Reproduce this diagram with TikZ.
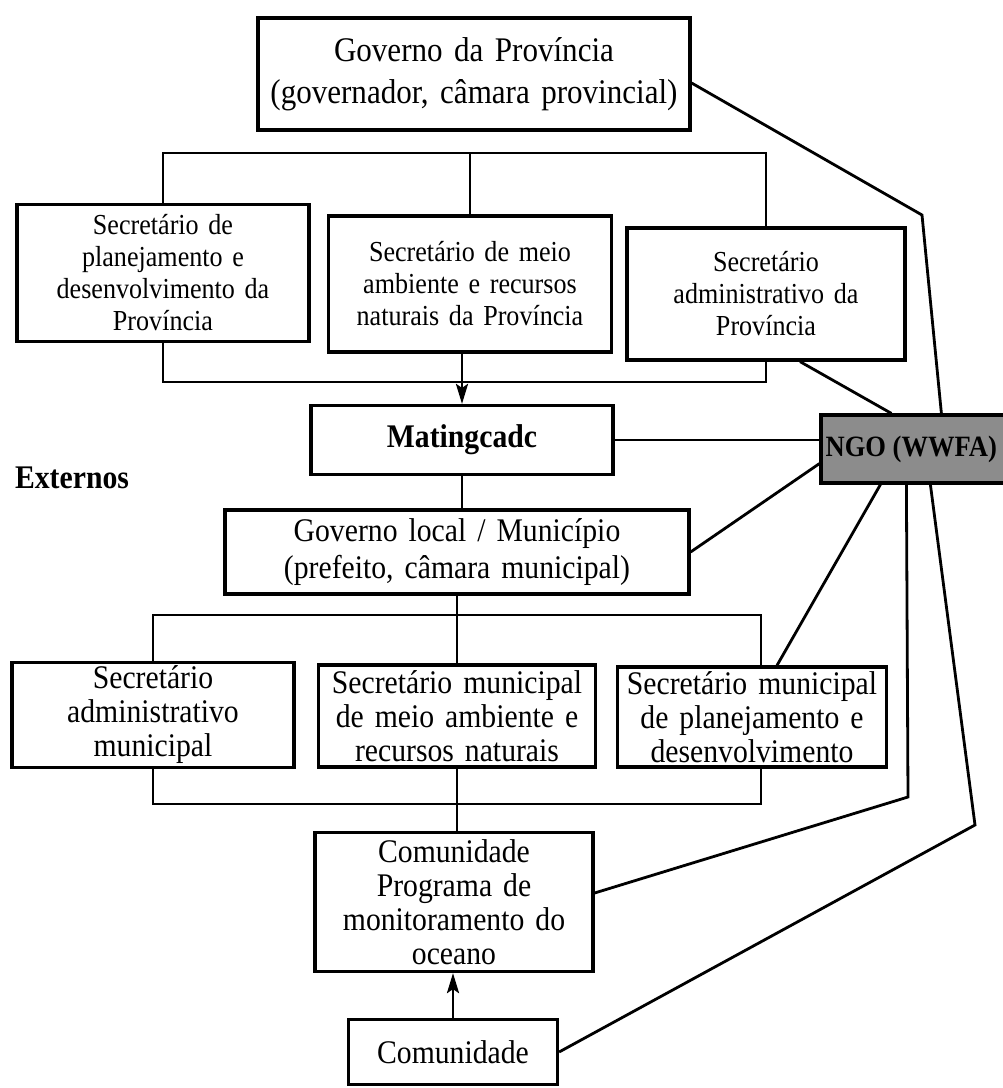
\documentclass[tikz,border=0pt]{standalone}
\usepackage{fontspec}
\setmainfont{Liberation Serif}[FakeStretch=0.9]
\usetikzlibrary{arrows.meta,calc}
\definecolor{ngofill}{RGB}{140,140,140}
\tikzset{
  box/.style={draw, line width=3.2pt, fill=white, align=center, inner sep=0pt},
  link/.style={line width=2.8pt},
  arr/.style={link, -{Stealth[length=20pt,width=12pt,inset=4pt]}},
  fprov/.style={font=\fontsize{29}{32}\selectfont},
  fmain/.style={font=\fontsize{33}{34}\selectfont},
  fbold/.style={font=\bfseries\fontsize{33}{36}\selectfont},
}
\begin{document}
\begin{tikzpicture}[x=1pt,y=-1pt]
\useasboundingbox (0,0) rectangle (1003,1088);
\fill[white] (0,0) rectangle (1003,1088);

% provincial level
\node[box, minimum width=432pt, minimum height=112pt, text width=424pt,
      font=\fontsize{34.5}{42}\selectfont] (gov) at (474,74)
  {Governo da Província\\(governador, câmara provincial)};

\node[box, fprov, minimum width=292pt, minimum height=137pt, text width=284pt] (sp1) at (163,273)
  {Secretário de\\planejamento e\\desenvolvimento da\\Província};
\node[box, fprov, minimum width=283pt, minimum height=136pt, text width=275pt] (sp2) at (470,284)
  {Secretário de meio\\ambiente e recursos\\naturais da Província};
\node[box, fprov, minimum width=278pt, minimum height=132pt, text width=270pt] (sp3) at (766,294)
  {Secretário\\administrativo da\\Província};

% coordinating body and NGO
\node[box, fbold, minimum width=302pt, minimum height=69pt] (mat) at (462,440) {Matingcadc};
\node[box, fill=ngofill, minimum width=191pt, minimum height=68pt] (ngo) at (916.5,449) {};
\node[anchor=west, inner sep=0pt, font=\bfseries\fontsize{29.5}{32}\selectfont]
  (ngotext) at ($(ngo.west)+(6,0)$) {NGO (WWFA)};
\node[fbold, inner sep=0pt] (ext) at (72,478) {Externos};

% municipal level
\node[box, font=\fontsize{33}{37}\selectfont, minimum width=464pt, minimum height=84pt, text width=456pt] (local) at (457,552)
  {Governo local / Município\\(prefeito, câmara municipal)};

\node[box, fmain, minimum width=282pt, minimum height=105pt, text width=274pt] (sm1) at (153,715)
  {Secretário\\administrativo\\municipal};
\node[box, fmain, minimum width=277pt, minimum height=102pt, text width=269pt] (sm2) at (457,716)
  {Secretário municipal\\de meio ambiente e\\recursos naturais};
\node[box, fmain, minimum width=269pt, minimum height=100pt, text width=261pt] (sm3) at (752,717)
  {Secretário municipal\\de planejamento e\\desenvolvimento};

% community level
\node[box, fmain, minimum width=278pt, minimum height=139pt, text width=270pt] (prog) at (454,902)
  {Comunidade\\Programa de\\monitoramento do\\oceano};
\node[box, fmain, minimum width=209pt, minimum height=65pt] (com) at (453,1052) {Comunidade};

% bracket levels and bends
\coordinate (ptop) at (0,153);
\coordinate (pbot) at (0,382);
\coordinate (mtop) at (0,615);
\coordinate (mbot) at (0,804);
\coordinate (smr) at ($(sm3.north)+(9,0)$);
\coordinate (smrb) at ($(sm3.south)+(9,0)$);
\coordinate (b1) at (922,215);
\coordinate (b2) at (908,797);
\coordinate (b3) at (975,825);

% hierarchy connectors
\draw[link] (sp1.north) |- (sp3.north |- ptop) -- (sp3.north);
\draw[link] (sp2.north) -- (sp2.north |- ptop);
\draw[link] (sp1.south) |- (sp3.south |- pbot) -- (sp3.south);
\draw[arr] (mat.north |- sp2.south) -- (mat.north);
\draw[link] (mat.south) -- (mat.south |- local.north);
\draw[link] (mat.east) -- (mat.east -| ngo.west);
\draw[link] (local.south) -- (local.south |- sm2.north);
\draw[link] (sm1.north) |- (smr |- mtop) -- (smr);
\draw[link] (sm1.south) |- (smrb |- mbot) -- (smrb);
\draw[link] (sm2.south) -- (sm2.south |- prog.north);
\draw[arr] (com.north) -- (com.north |- prog.south);

% NGO links
\draw[link] ($(gov.east)+(0,9)$) -- (b1) -- ($(ngo.north west)+(122,0)$);
\draw[link] ($(sp3.south)+(34,0)$) -- ($(ngo.north west)+(72,0)$);
\draw[link] (local.east) -- ($(ngo.south west)+(0,-21)$);
\draw[link] ($(ngo.south west)+(61,0)$) -- ($(sm3.north)+(25,0)$);
\draw[link] ($(ngo.south west)+(87,0)$) -- (b2) -- ($(prog.east)+(0,-9)$);
\draw[link] ($(ngo.south west)+(111,0)$) -- (b3) -- (com.east);
\end{tikzpicture}
\end{document}
